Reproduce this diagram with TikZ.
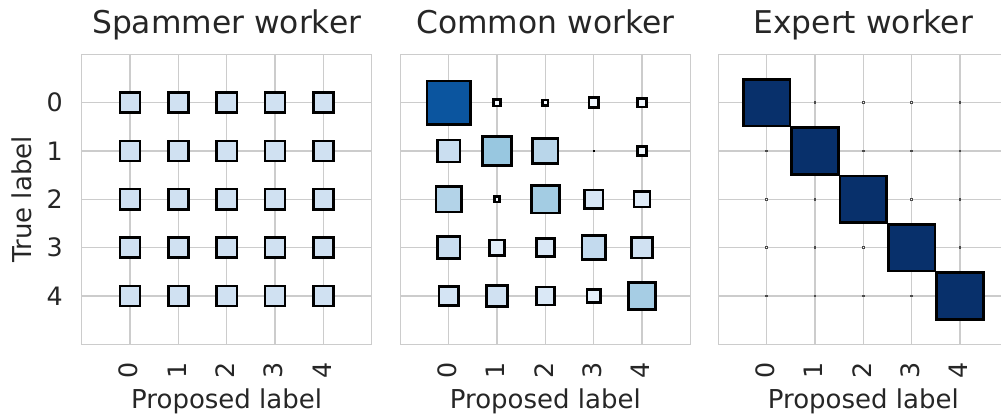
\documentclass[tikz,border=0pt]{standalone}
\usepackage{fontspec}
\setmainfont{DejaVu Sans}
\definecolor{textgray}{HTML}{262626}
\definecolor{gridgray}{HTML}{CCCCCC}
\definecolor{spamfill}{HTML}{D0E1F2}
\definecolor{expertfill}{HTML}{08306B}
\begin{document}
\begin{tikzpicture}[
    x=0.75pt, y=-0.75pt,
    gridline/.style={draw=gridgray, line width=1pt},
    hsq/.style={draw=black, line width=1.9pt, inner sep=0pt, outer sep=0pt},
    dotsq/.style={draw=black!70, line width=0.6pt, fill=white, inner sep=0pt, minimum size=1.2pt},
    paneltitle/.style={font=\fontsize{23.5}{28}\selectfont, text=textgray, anchor=base},
    axlabel/.style={font=\fontsize{19.5}{23}\selectfont, text=textgray, anchor=base},
    ticklabel/.style={font=\fontsize{19}{23}\selectfont, text=textgray, inner sep=0pt}
]
\clip (0,0) rectangle (1001,416);

% Spammer worker: every proposed label equally likely
\begin{scope}[xshift=97.5pt, yshift=-77pt, x=36.25pt, y=-36.25pt]
  \foreach \k in {0,...,4} {
    \draw[gridline] (\k,-1) -- (\k,5);
    \draw[gridline] (-1,\k) -- (5,\k);
  }
  \draw[gridline] (-1,-1) rectangle (5,5);
  \foreach \r in {0,...,4}
    \foreach \c in {0,...,4}
      \node[hsq, minimum size=15.15pt, fill=spamfill] (sw-\r-\c) at (\c,\r) {};
  % axes
  \node[paneltitle] (swtitle) at (2,-1.436) {Spammer worker};
  \foreach \k in {0,...,4} {
    \node[ticklabel] (swy\k) at (-1.56,\k) {\k};
    \node[ticklabel, rotate=90] (swx\k) at (\k-0.03,5.537) {\k};
  }
  \node[axlabel] (swxlabel) at (2,6.323) {Proposed label};
  \node[axlabel, rotate=90] (swylabel) at (-2.038,2) {True label};
\end{scope}

% Common worker: mostly right, some confusion
\begin{scope}[xshift=336.5pt, yshift=-77pt, x=36.25pt, y=-36.25pt]
  \foreach \k in {0,...,4} {
    \draw[gridline] (\k,-1) -- (\k,5);
    \draw[gridline] (-1,\k) -- (5,\k);
  }
  \draw[gridline] (-1,-1) rectangle (5,5);
  \foreach \r/\c/\s/\col in {
      0/0/32.4/0B559F, 0/1/4.9/F3F8FE, 0/2/4.1/F4F9FE, 0/3/7.35/EEF5FC, 0/4/6.6/F0F6FD,
      1/0/16.65/CADEF0, 1/1/21.9/98C7E0, 1/2/18.9/B9D6EA, 1/4/7.1/EFF6FC,
      2/0/19.35/B3D3E8, 2/1/4.1/F4F9FE, 2/2/20.85/A3CCE3, 2/3/14.1/D7E6F5, 2/4/11.85/E0ECF8,
      3/0/16.65/CADEF0, 3/1/11.4/E2EDF8, 3/2/13.65/D9E7F5, 3/3/17.85/C3DAEE, 3/4/15.6/D0E1F2,
      4/0/14.6/D4E4F4, 4/1/15.6/D0E1F2, 4/2/13.35/DAE8F6, 4/3/10.1/E6F0FA, 4/4/20.6/A6CDE4} {
    \edef\setfill{\noexpand\definecolor{sqfill}{HTML}{\col}}\setfill
    \node[hsq, minimum size=\s pt, fill=sqfill] (cw-\r-\c) at (\c,\r) {};
  }
  % near-zero entry
  \node[hsq, line width=1.2pt, minimum size=0.4pt, fill=black] (cw-1-3) at (3,1) {};
  % axes
  \node[paneltitle] (cwtitle) at (2,-1.436) {Common worker};
  \foreach \k in {0,...,4}
    \node[ticklabel, rotate=90] (cwx\k) at (\k-0.03,5.537) {\k};
  \node[axlabel] (cwxlabel) at (2,6.323) {Proposed label};
\end{scope}

% Expert worker: always right
\begin{scope}[xshift=575pt, yshift=-77pt, x=36.25pt, y=-36.25pt]
  \foreach \k in {0,...,4} {
    \draw[gridline] (\k,-1) -- (\k,5);
    \draw[gridline] (-1,\k) -- (5,\k);
  }
  \draw[gridline] (-1,-1) rectangle (5,5);
  \foreach \r in {0,...,4}
    \foreach \c in {0,...,4} {
      \ifnum\r=\c
        \node[hsq, minimum size=34.9pt, fill=expertfill] (ew-\r-\c) at (\c,\r) {};
      \else
        \node[dotsq] (ew-\r-\c) at (\c,\r) {};
      \fi
    }
  % axes
  \node[paneltitle] (ewtitle) at (2,-1.436) {Expert worker};
  \foreach \k in {0,...,4}
    \node[ticklabel, rotate=90] (ewx\k) at (\k-0.03,5.537) {\k};
  \node[axlabel] (ewxlabel) at (2,6.323) {Proposed label};
\end{scope}

\end{tikzpicture}
\end{document}
